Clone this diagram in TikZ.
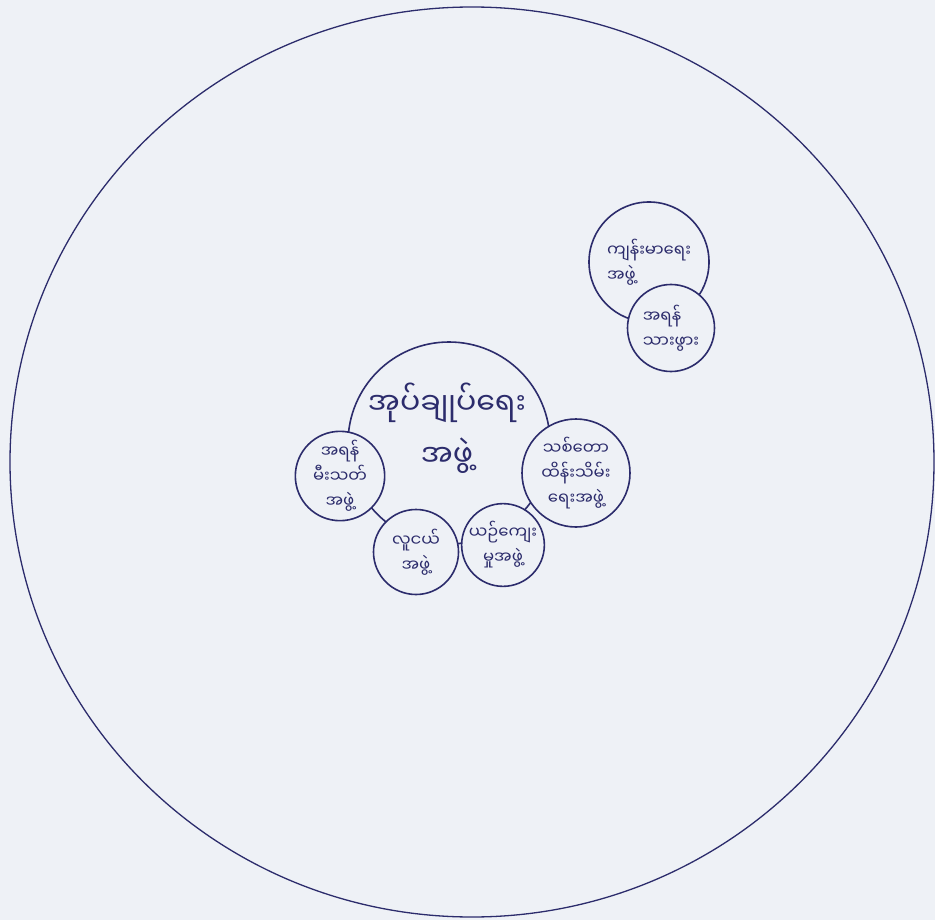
\documentclass[tikz,border=0pt]{standalone}
\usepackage{fontspec}
\newfontfamily\mmfont[Script=Myanmar]{Noto Sans Myanmar UI}
\definecolor{paper}{HTML}{EEF1F6}
\definecolor{pen}{HTML}{2C2C6C}
\tikzset{
  grp/.style={circle,draw=pen,line width=1.6pt,fill=paper,inner sep=0pt,
    align=center,text=pen,font=\mmfont\fontsize{16.5}{25}\selectfont},
}
\begin{document}
\begin{tikzpicture}[x=1pt,y=-1pt]
  \fill[paper] (0,0) rectangle (935,920);
  \useasboundingbox (0,0) rectangle (935,920);
  \draw[pen,line width=1.3pt] (472,462) ellipse [x radius=462,y radius=455];
  % village groups
  \node[grp,minimum size=202pt] (admin) at (449,443) {};
  \node[grp,minimum size=87pt] (fire) at (340,476) {အရန်\\မီးသတ်\\အဖွဲ့};
  \node[grp,minimum size=85pt] (youth) at (416,552) {လူငယ်\\အဖွဲ့};
  \node[grp,minimum size=78pt] (culture) at (503,545) {ယဉ်ကျေး\\မှုအဖွဲ့};
  \node[grp,minimum size=108pt] (forest) at (576,473) {သစ်တော\\ထိန်းသိမ်း\\ရေးအဖွဲ့};
  \node[font=\mmfont\fontsize{30}{52}\selectfont,text=pen,align=center] (admintxt)
    at (447,428) {အုပ်ချုပ်ရေး\\အဖွဲ့};
  % health
  \node[grp,minimum size=120pt,align=left] (health) at (649,262) {ကျန်းမာရေး\\အဖွဲ့};
  \node[grp,minimum size=87pt,align=left] (midwife) at (671,328) {အရန်\\သားဖွား};
\end{tikzpicture}
\end{document}
